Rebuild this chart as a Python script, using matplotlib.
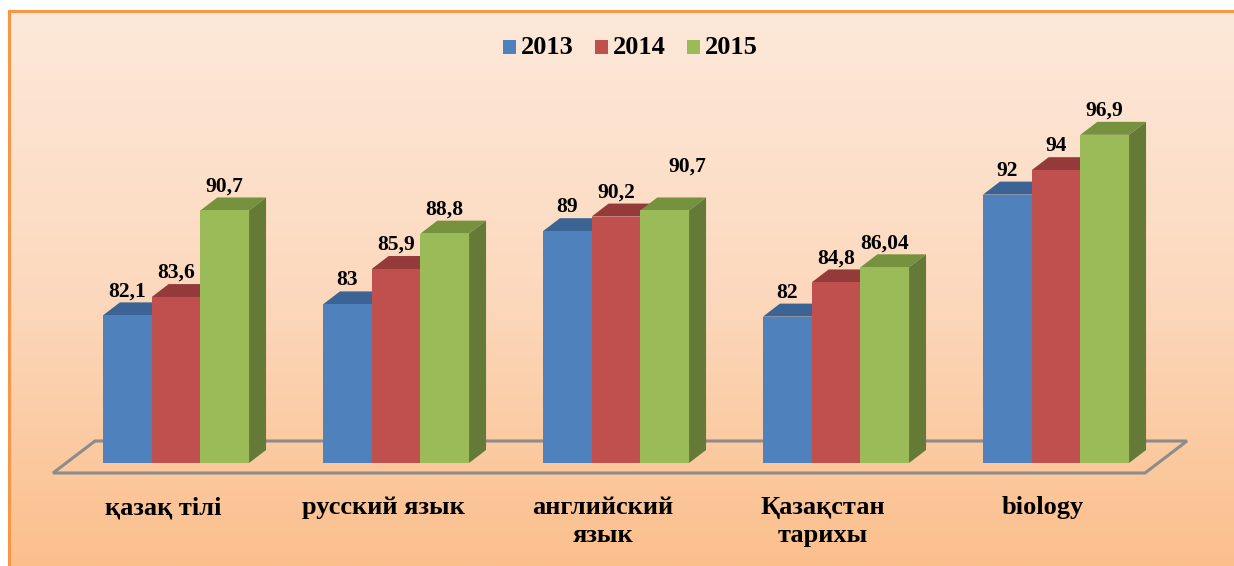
import numpy as np
import matplotlib
matplotlib.use("Agg")
import matplotlib.pyplot as plt
from matplotlib.patches import Polygon, Rectangle
from matplotlib.colors import LinearSegmentedColormap

categories = ["қазақ тілі", "русский язык", "английский\nязык", "Қазақстан\nтарихы", "biology"]
years = ["2013", "2014", "2015"]
v2013 = [82.1, 83, 89, 82, 92]
v2014 = [83.6, 85.9, 90.2, 84.8, 94]
v2015 = [90.7, 88.8, 90.7, 86.04, 96.9]
labels2013 = ["82,1", "83", "89", "82", "92"]
labels2014 = ["83,6", "85,9", "90,2", "84,8", "94"]
labels2015 = ["90,7", "88,8", "90,7", "86,04", "96,9"]

series = [v2013, v2014, v2015]
series_labels = [labels2013, labels2014, labels2015]
front = ["#4F81BD", "#C0504D", "#9BBB59"]
top = ["#3B6494", "#943A38", "#77923F"]
side = ["#335682", "#7F302E", "#667A38"]

# label nudges in pixels (dx, dy up) — styling only
nudges = {(2, 2): (23, 20), (2, 3): (6, 13)}

W, H = 1234, 566
fig = plt.figure(figsize=(W / 100, H / 100), dpi=100)
ax = fig.add_axes([0, 0, 1, 1])
ax.set_axis_off()

px_per_group = 220.0
px_per_unit = 12.2
base = 70.0
x0_px = 176.0
y0_px = 463.0
ax.set_xlim(-x0_px / px_per_group, (W - x0_px) / px_per_group)
ax.set_ylim(base - (H - y0_px) / px_per_unit, base + y0_px / px_per_unit)

def px2x(dx):
    return dx / px_per_group

def px2y(dy):
    return dy / px_per_unit

# background gradient
cmap = LinearSegmentedColormap.from_list("bg", ["#FDE9DA", "#FCD9BE", "#FBBF8C"])
grad = np.linspace(0, 1, 256).reshape(-1, 1)
ax.imshow(grad, aspect="auto", cmap=cmap, extent=(9 / W, 1, 0, 1 - 11 / H),
          transform=ax.transAxes, zorder=0, origin="upper")
ax.add_patch(Rectangle((9 / W, -0.01), 1.0, 1 - 11 / H + 0.01, transform=ax.transAxes,
                       fill=False, edgecolor="#F79646", linewidth=2.2, zorder=1))

# floor
n = len(categories)
fl_front_y = base - px2y(10)
fl_back_y = base + px2y(22)
xl = px2x(53 - x0_px)
xr = px2x(1145 - x0_px)
sh = px2x(42)
floor = Polygon([(xl, fl_front_y), (xr, fl_front_y), (xr + sh, fl_back_y), (xl + sh, fl_back_y)],
                closed=True, fill=False, edgecolor="#8C8C8C", linewidth=2.2, zorder=2)
ax.add_patch(floor)

bw = px2x(48.7)
ddx = px2x(17)
ddy = px2y(13)
xs = np.arange(n)

for j in range(3):
    xc = xs + (j - 1) * bw
    vals = np.array(series[j])
    for i in range(n):
        l = xc[i] - bw / 2
        r = xc[i] + bw / 2
        t = vals[i]
        ax.add_patch(Polygon([(l, t), (r, t), (r + ddx, t + ddy), (l + ddx, t + ddy)],
                             closed=True, facecolor=top[j], edgecolor="none", zorder=3 + j * 2))
        ax.add_patch(Polygon([(r, base), (r + ddx, base + ddy), (r + ddx, t + ddy), (r, t)],
                             closed=True, facecolor=side[j], edgecolor="none", zorder=3 + j * 2))
    ax.bar(xc, vals - base, bottom=base, width=bw, color=front[j], zorder=4 + j * 2,
           linewidth=0)
    for i in range(n):
        ndx, ndy = nudges.get((i, j), (0, 0))
        ax.text(xc[i] + px2x(ndx), vals[i] + ddy + px2y(11 + ndy), series_labels[j][i],
                ha="center", va="center", fontsize=15.5, fontweight="bold",
                family="Liberation Serif", color="black", zorder=20)

# category labels
for i, c in enumerate(categories):
    ax.text(xs[i] - px2x(13), base - px2y(33), c, ha="center", va="top", fontsize=19,
            fontweight="bold", family="Liberation Serif", linespacing=1.3, zorder=20)

# legend
leg_y = 1 - 47 / H
sq = [503, 595, 687]
for j in range(3):
    ax.add_patch(Rectangle((sq[j] / W, leg_y - 6.5 / H), 13 / W, 13 / H, transform=ax.transAxes,
                           facecolor=front[j], edgecolor="none", zorder=20))
    ax.text((sq[j] + 18) / W, leg_y, years[j], transform=ax.transAxes, ha="left", va="center",
            fontsize=19, fontweight="bold", family="Liberation Serif", zorder=20)

fig.savefig("out.png", dpi=100)
